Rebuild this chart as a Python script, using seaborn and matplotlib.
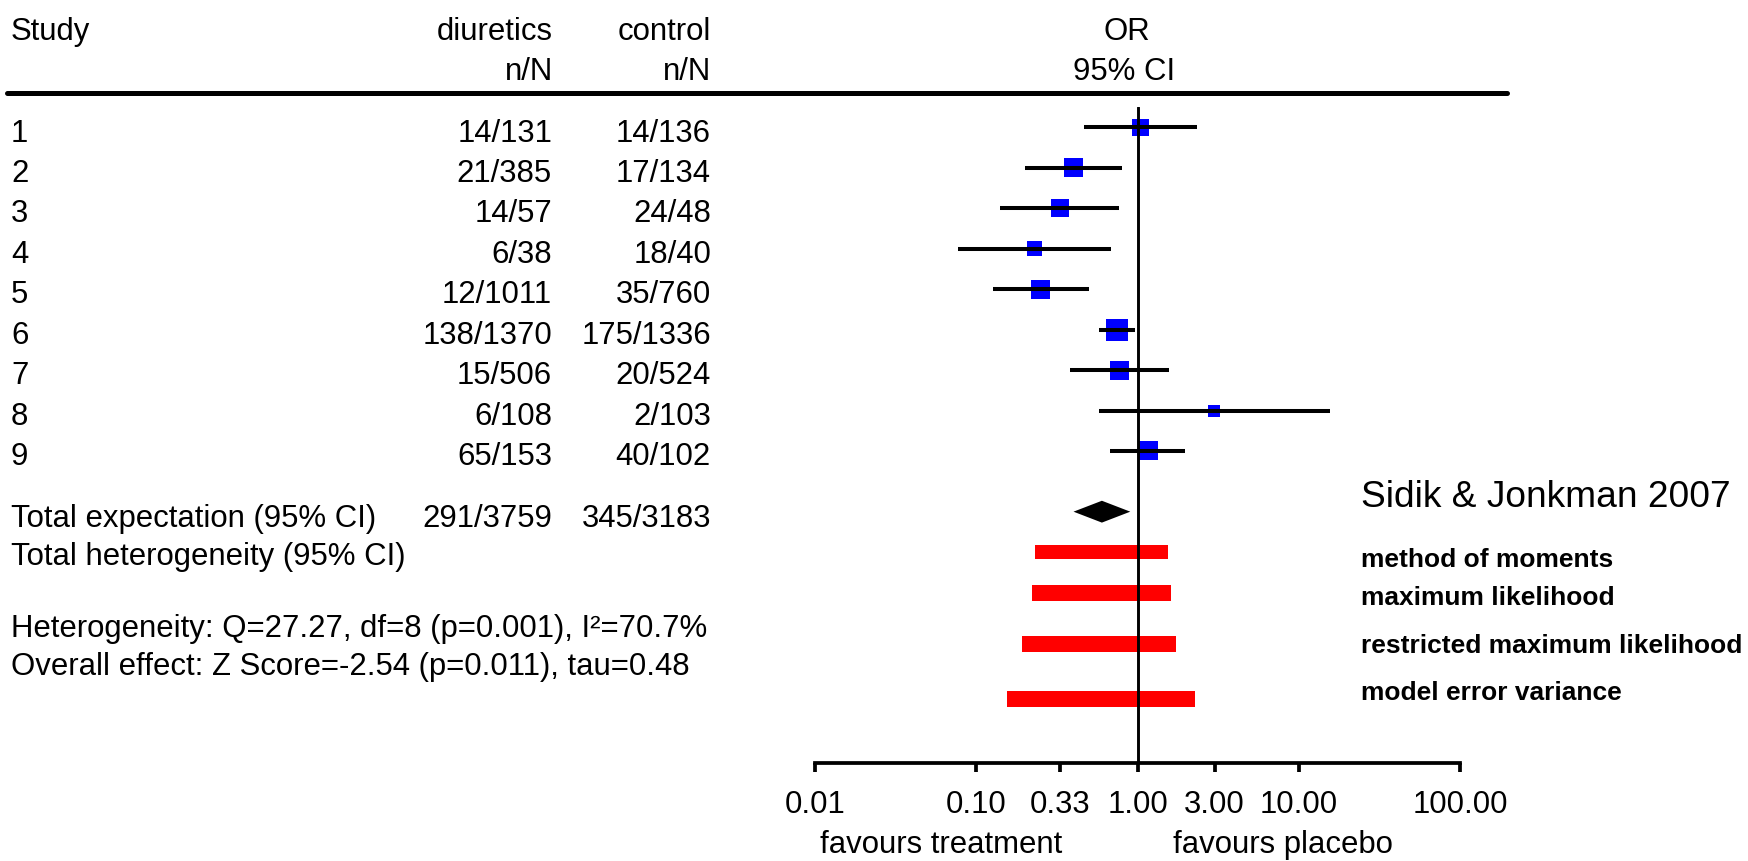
import numpy as np
import matplotlib
matplotlib.use("Agg")
import matplotlib.pyplot as plt
import seaborn as sns
from matplotlib.lines import Line2D
from matplotlib.ticker import NullLocator

# Study data
studies = ['1', '2', '3', '4', '5', '6', '7', '8', '9']
diuretics = ['14/131', '21/385', '14/57', '6/38', '12/1011', '138/1370', '15/506', '6/108', '65/153']
control = ['14/136', '17/134', '24/48', '18/40', '35/760', '175/1336', '20/524', '2/103', '40/102']
or_est = [1.04, 0.40, 0.33, 0.23, 0.25, 0.745, 0.77, 2.98, 1.16]
or_lo = [0.467, 0.199, 0.139, 0.077, 0.126, 0.576, 0.382, 0.576, 0.67]
or_hi = [2.35, 0.80, 0.767, 0.687, 0.50, 0.963, 1.57, 15.5, 1.96]
weight = [17, 19, 18, 15, 19, 22, 19, 12, 19]   # box size, relative

total_label = 'Total expectation (95% CI)'
total_diu = '291/3759'
total_ctl = '345/3183'
total_or = [0.40, 0.60, 0.90]   # lower, estimate, upper

methods = ['method of moments', 'maximum likelihood',
           'restricted maximum likelihood', 'model error variance']
het_lo = [0.232, 0.222, 0.193, 0.155]
het_hi = [1.55, 1.60, 1.74, 2.27]

ticks = [0.01, 0.10, 0.33, 1.00, 3.00, 10.00, 100.00]

W, H = 1748, 861
def fx(px):
    return px / W
def fy(px):
    return 1 - px / H

sns.set_style("white")
plt.rcParams['font.family'] = ['Liberation Sans', 'DejaVu Sans']
FS = 22.4

fig = plt.figure(figsize=(W / 100, H / 100), dpi=100)
ax = fig.add_axes([fx(815.3), fy(762.7), (1460 - 815.3) / W, (762.7 - 106.7) / H])

rows = np.arange(1, len(studies) + 1)

# study boxes and confidence intervals
sns.scatterplot(x=or_est, y=rows, marker='s', s=[(w * 0.72) ** 2 for w in weight],
                color='#0000ff', linewidth=0, ax=ax, zorder=2)
ax.hlines(rows, or_lo, or_hi, color='black', lw=2.9, zorder=3)

# pooled diamond
y_tot = 10.5
lo, mid, hi = total_or
ax.fill([lo, mid, hi, mid], [y_tot, y_tot - 0.27, y_tot, y_tot + 0.27],
        color='black', lw=0, zorder=3)

# heterogeneity bars
bar_y = [11.5, 12.5, 13.77, 15.13]
bar_h = [0.33, 0.40, 0.41, 0.41]
ax.barh(bar_y, np.array(het_hi) - np.array(het_lo), left=het_lo,
        height=bar_h, color='#ff0000', lw=0, zorder=2)

ax.axvline(1, color='black', lw=2.1, zorder=4)

ax.set_xscale('log')
ax.set_xlim(0.01, 100)
ax.set_ylim(16.704, 0.491)
ax.set_xticks(ticks)
ax.set_xticklabels([f'{t:.2f}' for t in ticks])
ax.xaxis.set_minor_locator(NullLocator())
ax.set_yticks([])
for s in ['top', 'left', 'right']:
    ax.spines[s].set_visible(False)
ax.spines['bottom'].set_linewidth(2.7)
ax.spines['bottom'].set_color('black')
ax.tick_params(axis='x', direction='out', length=6.5, width=2.7,
               labelsize=FS, pad=13, colors='black', bottom=True)
ax.patch.set_alpha(0)

# header
def t(x, y, s, ha='left', **kw):
    fig.text(fx(x), fy(y), s, ha=ha, va='baseline', fontsize=kw.pop('fontsize', FS),
             color='black', **kw)

t(11, 40, 'Study')
t(553, 40, 'diuretics', ha='right')
t(711, 40, 'control', ha='right')
t(553, 80, 'n/N', ha='right')
t(711, 80, 'n/N', ha='right')
t(1127, 40, 'OR', ha='center')
t(1124, 80, '95% CI', ha='center')
fig.add_artist(Line2D([fx(7), fx(1507)], [fy(92.5), fy(92.5)], color='black', lw=3.6))

# table rows
for i, (s, d, c) in enumerate(zip(studies, diuretics, control)):
    yb = 141.7 + 40.4 * i
    t(11, yb, s)
    t(552, yb, d, ha='right')
    t(711, yb, c, ha='right')

t(11, 526.7, total_label)
t(552, 526.7, total_diu, ha='right')
t(711, 526.7, total_ctl, ha='right')
t(11, 565, 'Total heterogeneity (95% CI)')
t(11, 636.7, 'Heterogeneity: Q=27.27, df=8 (p=0.001), I²=70.7%')
t(11, 675, 'Overall effect: Z Score=-2.54 (p=0.011), tau=0.48')

# right-hand labels
t(1361, 506.7, 'Sidik & Jonkman 2007', fontsize=26.7)
for m, yb in zip(methods, [566.7, 605, 653.3, 700]):
    t(1361, yb, m, fontsize=19, fontweight='bold')

t(940.8, 852.7, 'favours treatment', ha='center')
t(1282.5, 852.7, 'favours placebo', ha='center')

fig.savefig('out.png', dpi=100)
